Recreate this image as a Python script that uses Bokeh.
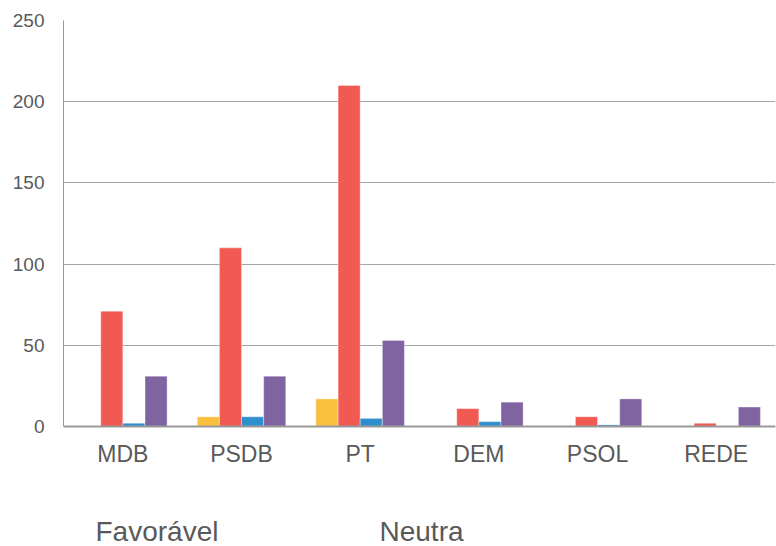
from bokeh.plotting import figure
from bokeh.models import ColumnDataSource, FixedTicker, Range1d, Label
from bokeh.transform import dodge
from bokeh.embed import file_html
from bokeh.resources import INLINE

partidos = ["MDB", "PSDB", "PT", "DEM", "PSOL", "REDE"]
favoravel = [0, 6, 17, 0, 0, 0]
neutra = [71, 110, 210, 11, 6, 2]
desfavoravel = [2, 6, 5, 3, 1, 0]
outra = [31, 31, 53, 15, 17, 12]
legend_labels = ["Favorável", "Neutra"]
y_ticks = [0, 50, 100, 150, 200, 250]

FONT = "Liberation Sans"
TXT = "#595959"

# geometry (pixels): plot top, zero line, canvas bottom
W, H = 776, 546
TOP, ZERO = 20, 426
y_max = y_ticks[-1]
px_per_unit = (ZERO - TOP) / y_max
y_min = -(H - ZERO) / px_per_unit   # room below zero for axis labels + legend

src = ColumnDataSource(dict(partido=partidos, fav=favoravel, neu=neutra,
                            des=desfavoravel, out=outra))

p = figure(x_range=partidos, y_range=Range1d(y_min, y_max), width=W, height=H,
           output_backend="svg", toolbar_location=None,
           min_border_left=63, min_border_right=1, min_border_top=TOP,
           min_border_bottom=0)
p.outline_line_color = None

series = [("fav", "#FBBF3E", -0.28), ("neu", "#F15A52", -0.093),
          ("des", "#2E8FCF", 0.093), ("out", "#8064A2", 0.28)]
for col, color, off in series:
    p.vbar(x=dodge("partido", off, range=p.x_range), top=col, width=0.186,
           source=src, fill_color=color, line_color="white", line_width=0.6,
           line_alpha=0.6)

p.xgrid.grid_line_color = None
p.ygrid.grid_line_color = "#a6a6a6"
p.ygrid.grid_line_width = 1
p.yaxis.ticker = FixedTicker(ticks=y_ticks)
p.yaxis.bounds = (0, y_max)
p.xaxis.fixed_location = 0

for ax in (p.xaxis[0], p.yaxis[0]):
    ax.major_tick_line_color = None
    ax.minor_tick_line_color = None
    ax.major_tick_out = 0
    ax.major_tick_in = 0
    ax.minor_tick_out = 0
    ax.axis_line_color = "#999999"
    ax.major_label_text_font = FONT
    ax.major_label_text_color = TXT

p.xaxis.axis_line_width = 2
p.yaxis.axis_line_width = 1
p.xaxis.major_label_text_font_size = "23px"
p.yaxis.major_label_text_font_size = "19px"
p.xaxis.major_label_standoff = 14
p.yaxis.major_label_standoff = 19

# legend labels only (no swatches visible in the reference)
for lbl, xpos in zip(legend_labels, [32, 316]):
    p.add_layout(Label(x=xpos, y=15, x_units="screen", y_units="screen",
                       text=lbl, text_font=FONT, text_font_size="28px",
                       text_color=TXT, text_baseline="alphabetic"))

open("out.html", "w").write(file_html(p, INLINE))
